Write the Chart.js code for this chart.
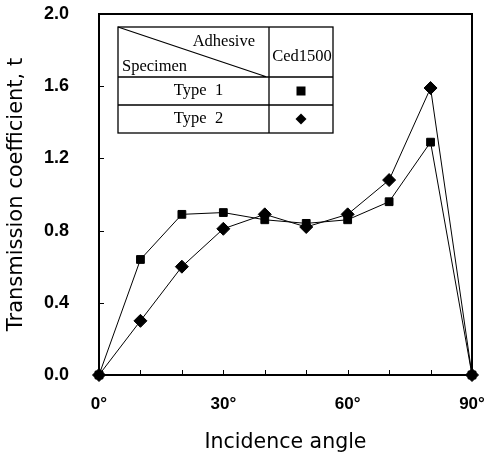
<!DOCTYPE html>
<html>
<head>
<meta charset="utf-8">
<script src="https://cdn.jsdelivr.net/npm/chart.js@4/dist/chart.umd.min.js"></script>
<style>
  html, body { margin: 0; padding: 0; background: #fff; }
  #wrap { width: 489px; height: 456px; }
</style>
</head>
<body>
<div id="wrap"><canvas id="chart" width="489" height="456"></canvas></div>
<script>
// angles in degrees
const angles = [0, 10, 20, 30, 40, 50, 60, 70, 80, 90];
const type1 = [0, 0.64, 0.89, 0.90, 0.86, 0.84, 0.86, 0.96, 1.29, 0];
const type2 = [0, 0.30, 0.60, 0.81, 0.89, 0.82, 0.89, 1.08, 1.59, 0];
const seriesNames = ['Type 1', 'Type 2'];
const yTicks = [0, 0.4, 0.8, 1.2, 1.6, 2.0];
const xLabelTicks = [0, 30, 60, 90];
const tableHeads = ['Adhesive', 'Specimen', 'Ced1500'];

const toPoints = (vals) => angles.map((a, i) => ({ x: a, y: vals[i] }));

// keep the plot box fixed, labels may hang outside it
const fixPad = (s) => {
  s.paddingTop = 0; s.paddingBottom = 0;
  s.paddingLeft = 0; s.paddingRight = 0;
};

// frame, inward ticks and the little legend table
const framePlugin = {
  id: 'frame',
  afterDraw(chart) {
    const { ctx, chartArea: a, scales } = chart;
    ctx.save();
    ctx.strokeStyle = '#000';
    ctx.lineWidth = 2;
    ctx.strokeRect(a.left, a.top, a.right - a.left, a.bottom - a.top);

    ctx.lineWidth = 1;
    ctx.beginPath();
    yTicks.forEach(v => {
      const y = Math.round(scales.y.getPixelForValue(v)) + 0.5;
      ctx.moveTo(a.left, y);
      ctx.lineTo(a.left + 5, y);
    });
    angles.forEach(v => {
      const x = Math.round(scales.x.getPixelForValue(v)) + 0.5;
      ctx.moveTo(x, a.bottom);
      ctx.lineTo(x, a.bottom - 5);
    });
    ctx.stroke();

    // table
    const L = a.left + 19, R = a.left + 234, T = a.top + 13;
    const colX = a.left + 170;
    const rows = [T, T + 50, T + 78, T + 106];
    ctx.lineWidth = 1.3;
    ctx.strokeRect(L, T, R - L, rows[3] - T);
    ctx.beginPath();
    ctx.moveTo(colX, T); ctx.lineTo(colX, rows[3]);
    ctx.moveTo(L, rows[1]); ctx.lineTo(R, rows[1]);
    ctx.moveTo(L, rows[2]); ctx.lineTo(R, rows[2]);
    ctx.moveTo(L, T); ctx.lineTo(colX - 2, rows[1]);
    ctx.stroke();

    ctx.fillStyle = '#000';
    ctx.font = '16.5px "Liberation Serif", "DejaVu Serif", serif';
    ctx.textBaseline = 'middle';
    ctx.textAlign = 'right';
    ctx.fillText(tableHeads[0], colX - 14, T + 15);
    ctx.textAlign = 'left';
    ctx.fillText(tableHeads[1], L + 4, T + 40);
    ctx.textAlign = 'center';
    ctx.fillText(tableHeads[2], (colX + R) / 2 + 1, T + 30);
    ctx.fillText(seriesNames[0].replace(' ', '  '), (L + colX) / 2 + 5, (rows[1] + rows[2]) / 2);
    ctx.fillText(seriesNames[1].replace(' ', '  '), (L + colX) / 2 + 5, (rows[2] + rows[3]) / 2);

    const mx = (colX + R) / 2;
    const my1 = (rows[1] + rows[2]) / 2, my2 = (rows[2] + rows[3]) / 2;
    ctx.fillRect(mx - 4.5, my1 - 4.5, 9, 9);
    ctx.beginPath();
    ctx.moveTo(mx, my2 - 5.5); ctx.lineTo(mx + 5.5, my2);
    ctx.lineTo(mx, my2 + 5.5); ctx.lineTo(mx - 5.5, my2);
    ctx.closePath();
    ctx.fill();
    ctx.restore();
  }
};

const tickFont = { family: '"Liberation Sans", Arial, sans-serif', size: 17, weight: 'bold' };

new Chart(document.getElementById('chart'), {
  type: 'scatter',
  data: {
    datasets: [
      {
        label: seriesNames[0],
        data: toPoints(type1),
        showLine: true,
        borderColor: '#000',
        borderWidth: 1,
        backgroundColor: '#000',
        pointStyle: 'rect',
        pointRadius: 5.5,
        pointHoverRadius: 5.5,
        clip: false
      },
      {
        label: seriesNames[1],
        data: toPoints(type2),
        showLine: true,
        borderColor: '#000',
        borderWidth: 1,
        backgroundColor: '#000',
        pointStyle: 'rectRot',
        pointRadius: 6.5,
        pointHoverRadius: 6.5,
        clip: false
      }
    ]
  },
  options: {
    responsive: false,
    animation: false,
    layout: { padding: { left: 0, top: 14, right: 17, bottom: 0 } },
    plugins: { legend: { display: false }, tooltip: { enabled: false } },
    scales: {
      x: {
        type: 'linear',
        min: 0,
        max: 90,
        afterFit: s => { s.height = 81; fixPad(s); },
        afterBuildTicks: s => { s.ticks = xLabelTicks.map(v => ({ value: v })); },
        grid: { display: false, drawTicks: false },
        border: { display: false },
        ticks: {
          color: '#000',
          font: tickFont,
          padding: 19,
          maxRotation: 0,
          callback: v => v + '°'
        },
        title: {
          display: true,
          text: 'Incidence angle',
          color: '#000',
          font: { family: '"DejaVu Sans", sans-serif', size: 20.5 },
          padding: { top: 0, bottom: 1 }
        }
      },
      y: {
        min: 0,
        max: 2,
        afterFit: s => { s.width = 99; fixPad(s); },
        afterBuildTicks: s => { s.ticks = yTicks.map(v => ({ value: v })); },
        grid: { display: false, drawTicks: false },
        border: { display: false },
        ticks: {
          color: '#000',
          font: { family: '"Liberation Sans", Arial, sans-serif', size: 18, weight: 'bold' },
          padding: 30,
          callback: v => v.toFixed(1)
        },
        title: {
          display: true,
          text: 'Transmission coefficient, t',
          color: '#000',
          font: { family: '"DejaVu Sans", sans-serif', size: 21 },
          padding: { top: 4, bottom: 0 }
        }
      }
    }
  },
  plugins: [framePlugin]
});
</script>
</body>
</html>
